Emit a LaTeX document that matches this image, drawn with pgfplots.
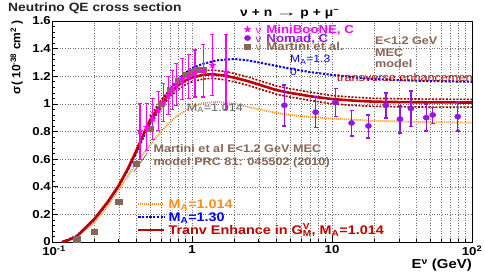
\documentclass[border=0pt]{standalone}
\usepackage{fontspec}
\setmainfont{Liberation Sans}[FakeStretch=1.15]
\newfontfamily\plainsans{Liberation Sans}
\usepackage{graphicx}
\usepackage{xcolor}
\usepackage{pgfplots}
\pgfplotsset{compat=1.18}

\definecolor{mbmag}{RGB}{255,0,255}
\definecolor{nomad}{RGB}{150,20,230}
\definecolor{martini}{RGB}{135,102,87}
\definecolor{oran}{RGB}{255,140,30}
\definecolor{blu}{RGB}{0,0,255}
\definecolor{dred}{RGB}{190,0,0}
\definecolor{bandc}{RGB}{160,0,0}
\definecolor{gtext}{RGB}{95,95,95}
\definecolor{gridc}{RGB}{110,110,110}
\definecolor{titlec}{RGB}{35,35,35}

\pgfdeclareplotmark{fstar}{%
 \pgfpathmoveto{\pgfpointpolar{90}{\pgfplotmarksize}}%
 \pgfpathlineto{\pgfpointpolar{126}{0.4\pgfplotmarksize}}%
 \pgfpathlineto{\pgfpointpolar{162}{\pgfplotmarksize}}%
 \pgfpathlineto{\pgfpointpolar{198}{0.4\pgfplotmarksize}}%
 \pgfpathlineto{\pgfpointpolar{234}{\pgfplotmarksize}}%
 \pgfpathlineto{\pgfpointpolar{270}{0.4\pgfplotmarksize}}%
 \pgfpathlineto{\pgfpointpolar{306}{\pgfplotmarksize}}%
 \pgfpathlineto{\pgfpointpolar{342}{0.4\pgfplotmarksize}}%
 \pgfpathlineto{\pgfpointpolar{18}{\pgfplotmarksize}}%
 \pgfpathlineto{\pgfpointpolar{54}{0.4\pgfplotmarksize}}%
 \pgfpathclose
 \pgfusepathqfillstroke}

\begin{document}
\begin{tikzpicture}[x=1pt,y=1pt]
\useasboundingbox (0,0) rectangle (485,277);

\begin{axis}[
  at={(52pt,35pt)}, anchor=south west,
  width=420pt, height=221pt, scale only axis,
  xmode=log, xmin=0.1, xmax=100, ymin=0, ymax=1.6,
  xtick={0.1,1,10,100},
  xticklabels={\hspace{4pt}10\textsuperscript{-1},1,10,10\textsuperscript{2}},
  ytick={0,0.2,0.4,0.6,0.8,1,1.2,1.4,1.6},
  yticklabels={0,0.2,0.4,0.6,0.8,1,1.2,1.4,1.6},
  minor y tick num=4,
  xmajorgrids, xminorgrids, ymajorgrids,
  major grid style={gridc, dash pattern=on 1pt off 1.6pt, line width=0.5pt},
  minor grid style={gridc, dash pattern=on 1pt off 1.6pt, line width=0.5pt},
  tick align=inside, tick pos=left,
  major tick length=6pt, minor tick length=3pt,
  every tick/.style={black, line width=0.6pt},
  axis line style={line width=0.8pt},
  ticklabel style={font=\bfseries\fontsize{11.5}{11.5}\selectfont},
  yticklabel style={inner xsep=1pt},
  xticklabel style={inner ysep=3.5pt},
  legend style={at={(0.2024,0.2014)}, anchor=north west, draw=none, fill=none,
    inner sep=0pt, outer sep=0pt, row sep=0pt,
    font=\bfseries\fontsize{12.5}{12.5}\selectfont,
    nodes={inner xsep=3pt, inner ysep=2.2pt, text height=8.6pt, text depth=0pt}},
  legend cell align=left,
  legend image code/.code={\draw[#1] (0pt,0pt) -- (26pt,0pt);},
]
% MA = 1.014 (orange dotted)
\addplot[oran, line width=1.8pt, dash pattern=on 1pt off 1pt] coordinates {
(0.12,0) (0.15,0.035) (0.2,0.14) (0.25,0.26) (0.3,0.38) (0.35,0.48) (0.4,0.57)
(0.45,0.64) (0.5,0.70) (0.6,0.80) (0.7,0.87) (0.8,0.92) (1.0,0.98) (1.2,1.005) (1.5,1.015)
(2,1.0) (3,0.96) (4,0.935) (5,0.92) (7,0.905) (10,0.893) (15,0.884) (20,0.878)
(30,0.873) (50,0.868) (100,0.864)};
\addlegendentry{\textcolor{oran}{M\textsubscript{A}=1.014}}
% MA = 1.30 (blue dotted)
\addplot[blu, line width=2pt, dash pattern=on 2.2pt off 1.5pt] coordinates {
(0.118,0) (0.15,0.045) (0.2,0.16) (0.25,0.285) (0.3,0.405) (0.35,0.525) (0.4,0.645)
(0.45,0.76) (0.5,0.86) (0.6,1.01) (0.7,1.11) (0.8,1.18) (0.9,1.225) (1.0,1.26)
(1.2,1.29) (1.5,1.315) (2,1.325) (2.5,1.315) (3,1.30) (4,1.275) (5,1.255) (7,1.23)
(10,1.21) (15,1.19) (20,1.18) (30,1.172) (50,1.165) (100,1.16)};
\addlegendentry{\textcolor{blu}{M\textsubscript{A}=1.30}}
% uncertainty band (dark red dotted)
\addplot[bandc, line width=1.6pt, dash pattern=on 2pt off 1.5pt, forget plot] coordinates {
(0.5,0.91) (0.6,1.025) (0.7,1.11) (0.8,1.165) (0.9,1.2) (1.0,1.22) (1.2,1.24)
(1.4,1.245) (1.7,1.235) (2,1.22) (2.5,1.195) (3,1.17) (4,1.13) (5,1.11) (7,1.085)
(10,1.06) (15,1.047) (20,1.04) (30,1.037) (50,1.034) (100,1.032)};
\addplot[bandc, line width=1.6pt, dash pattern=on 2pt off 1.5pt, forget plot] coordinates {
(0.5,0.85) (0.6,0.97) (0.7,1.055) (0.8,1.105) (0.9,1.14) (1.0,1.16) (1.2,1.18)
(1.4,1.185) (1.7,1.175) (2,1.16) (2.5,1.135) (3,1.11) (4,1.07) (5,1.05) (7,1.025)
(10,1.0) (15,0.988) (20,0.982) (30,0.979) (50,0.977) (100,0.976)};
% transverse enhancement (dark red solid)
\addplot[dred, line width=2.6pt] coordinates {
(0.118,0) (0.13,0.012) (0.15,0.04) (0.2,0.165) (0.25,0.29) (0.3,0.41) (0.35,0.535)
(0.4,0.66) (0.45,0.78) (0.5,0.88) (0.6,0.995) (0.7,1.08) (0.8,1.135) (0.9,1.17)
(1.0,1.19) (1.2,1.21) (1.4,1.215) (1.7,1.205) (2,1.19) (2.5,1.165) (3,1.14) (4,1.10)
(5,1.08) (7,1.055) (10,1.035) (15,1.022) (20,1.016) (30,1.013) (50,1.011) (100,1.01)};
\addlegendentry{\textcolor{dred}{Tranv Enhance in G\rlap{\textsuperscript{V}}\textsubscript{M}, M\textsubscript{A}=1.014}}
\end{axis}

\begin{axis}[
  at={(52pt,35pt)}, anchor=south west,
  width=420pt, height=221pt, scale only axis,
  xmode=log, xmin=0.1, xmax=100, ymin=0, ymax=1.6,
  hide axis,
  legend style={at={(0.4555,0.982)}, anchor=north west, draw=none, fill=none,
    inner sep=0pt, outer sep=0pt, row sep=0pt, column sep=0pt,
    font=\bfseries\fontsize{11.5}{11.5}\selectfont,
    nodes={inner xsep=1pt, inner ysep=0.2pt, text height=8.3pt, text depth=0pt}},
  legend cell align=left,
  legend image code/.code={\path (0pt,0pt) (11pt,0pt); \draw[#1] plot coordinates {(4pt,0pt)};},
]
\addlegendimage{only marks, mark=fstar, mark size=3.3pt, mbmag}
\addlegendentry{\textcolor{mbmag}{{\mdseries\fontsize{10}{10}\selectfont ν}\hspace{5pt}MiniBooNE, C}}
\addlegendimage{only marks, mark=*, mark size=2.6pt, nomad, mark options={xscale=1.2}}
\addlegendentry{\textcolor{nomad}{{\mdseries\fontsize{10}{10}\selectfont ν}\hspace{5pt}Nomad, C}}
\addlegendimage{only marks, mark=square*, mark size=2.6pt, martini, mark options={xscale=1.2}}
\addlegendentry{\textcolor{martini}{{\mdseries\fontsize{10}{10}\selectfont ν}\hspace{5pt}Martini et al.}}

% Martini et al. MEC model
\addplot[only marks, mark=square*, mark size=2.6pt, martini, mark options={xscale=1.2}, forget plot] coordinates {
(0.15,0.02) (0.2,0.075) (0.3,0.29) (0.4,0.565) (0.5,0.82) (0.6,1.0) (0.7,1.10)
(0.8,1.17) (0.9,1.21) (1.0,1.23) (1.1,1.245) (1.2,1.25)};
% MiniBooNE
\addplot[only marks, mark=fstar, mark size=3.3pt, mbmag, forget plot,
  error bars/.cd, y dir=both, y explicit,
  error bar style={line width=1.1pt, mbmag},
  error mark options={mbmag, line width=1.1pt, mark size=2pt, rotate=90}]
coordinates {
(0.425,0.80) +- (0,0.20)
(0.475,0.83) +- (0,0.17)
(0.525,0.89) +- (0,0.15)
(0.575,0.95) +- (0,0.14)
(0.625,1.01) +- (0,0.14)
(0.675,1.06) +- (0,0.14)
(0.725,1.10) +- (0,0.14)
(0.775,1.14) +- (0,0.15)
(0.85,1.18) +- (0,0.15)
(0.95,1.20) +- (0,0.16)
(1.05,1.22) +- (0,0.17)
(1.2,1.24) +- (0,0.19)
(1.4,1.28) +- (0,0.22)
(1.75,1.23) +- (0,0.27)};
% NOMAD
\addplot[only marks, mark=*, mark size=2.6pt, nomad, mark options={xscale=1.2}, forget plot,
  error bars/.cd, y dir=both, y explicit,
  error bar style={line width=1.4pt, nomad},
  error mark options={nomad, line width=1.4pt, mark size=2pt, rotate=90}]
coordinates {
(4.57,0.99) += (0,0.146) -= (0,0.15)
(7.64,0.94) += (0,0.11) -= (0,0.11)
(10.6,1.01) += (0,0.10) -= (0,0.10)
(13.8,0.862) += (0,0.09) -= (0,0.095)
(18.2,0.84) += (0,0.08) -= (0,0.088)
(24.3,0.99) += (0,0.088) -= (0,0.093)
(30.6,0.89) += (0,0.10) -= (0,0.10)
(36.6,0.967) += (0,0.125) -= (0,0.13)
(47.1,0.90) += (0,0.10) -= (0,0.095)
(52.4,0.92) += (0,0.055) -= (0,0.062)
(79.1,0.908) += (0,0.107) -= (0,0.105)};
% pointer from the Martini label
\draw[martini, line width=0.8pt] (axis cs:0.384,0.509) -- (axis cs:0.479,0.642);
\end{axis}

% annotations inside the frame
\begin{scope}
\clip (52,35) rectangle (472,256);
\node[anchor=west, inner sep=0pt, martini, font=\bfseries\fontsize{11}{11}\selectfont] at (375,236.3) {E<1.2 GeV};
\node[anchor=west, inner sep=0pt, martini, font=\bfseries\fontsize{11}{11}\selectfont] at (375,224.7) {MEC};
\node[anchor=west, inner sep=0pt, martini, font=\bfseries\fontsize{11}{11}\selectfont] at (375,213.7) {model};
\node[anchor=west, inner sep=0pt, blu, font=\fontsize{10.5}{10.5}\selectfont] at (290,217) {M\textsubscript{A}=1.3};
\node[anchor=west, inner sep=0pt, blu, font=\fontsize{10.5}{10.5}\selectfont] at (290,205) {0};
\node[anchor=west, inner sep=0pt, dred, font=\fontsize{11}{11}\selectfont] at (336.7,199.3) {transverse enhancement};
\node[anchor=west, inner sep=0pt, gtext, font=\fontsize{11}{11}\selectfont] at (186.7,168.7) {M\textsubscript{A}=1.014};
\node[anchor=west, inner sep=0pt, martini, font=\bfseries\fontsize{11}{11}\selectfont] at (153.3,128.7) {Martini et al E<1.2 GeV MEC};
\node[anchor=west, inner sep=0pt, martini, font=\bfseries\fontsize{11}{11}\selectfont] at (153.3,114.7) {model PRC 81: 045502 (2010)};
\end{scope}

% titles
\node[anchor=west, inner sep=0pt, titlec, font=\bfseries\fontsize{12}{12}\selectfont] at (8,268.7) {Neutrino QE cross section};
\node[anchor=west, inner sep=0pt, font=\bfseries\fontsize{12}{12}\selectfont] at (240,263) {ν\hspace{4pt}+\hspace{4pt}n\hspace{3pt}\scalebox{1.6}[1]{→}\hspace{3pt}p\hspace{4pt}+\hspace{4pt}μ\textsuperscript{−}};
\node[anchor=east, inner sep=0pt, font=\bfseries\fontsize{13}{13}\selectfont] at (472,12) {E\textsuperscript{ν}\hspace{4pt}(GeV)};
\node[rotate=90, anchor=east, inner sep=0pt, font=\plainsans\bfseries\fontsize{12}{12}\selectfont] at (16.7,257) {σ( 10\textsuperscript{-38} cm\textsuperscript{2} )};
\end{tikzpicture}
\end{document}
